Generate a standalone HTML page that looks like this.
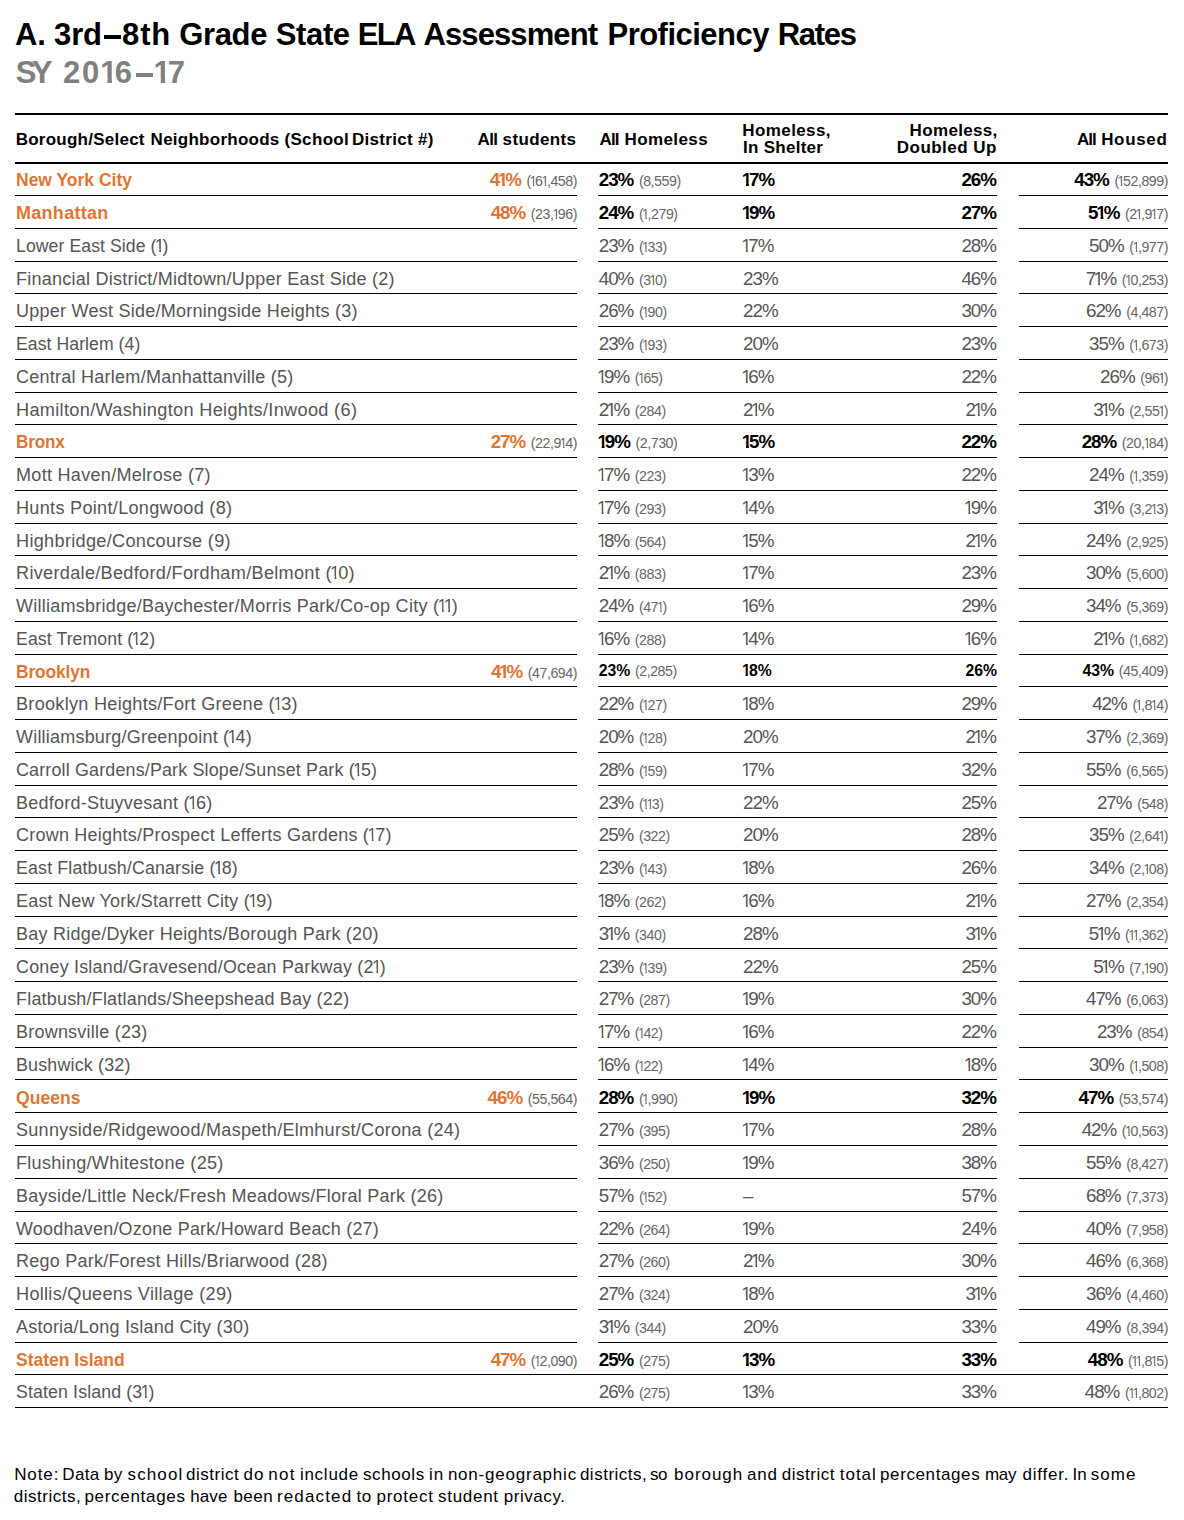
<!DOCTYPE html>
<html lang="en"><head><meta charset="utf-8"><title>A. 3rd–8th Grade State ELA Assessment Proficiency Rates</title>
<style>
html,body{margin:0;padding:0;background:#fff}
body{width:1184px;height:1520px;position:relative;overflow:hidden;font-family:"Liberation Sans",sans-serif}
.ln{position:absolute;left:0;top:0}
h1,h2{position:absolute;left:0;margin:0;width:1184px;height:36px;font-size:31px;line-height:36px;font-weight:700;white-space:nowrap;color:#000}
h1 span,h2 span{position:absolute;top:0}
h1 .d,h2 .d{background:#000;color:transparent;font-size:1px;line-height:1px;overflow:hidden}
h2 .d{background:#808080}
h1 i,h2 i{font-style:normal;display:inline-block;line-height:0;clip-path:polygon(0 -1em,.378em -1em,.378em 1em,.232em 1em,.232em .15em,0 .15em);margin:0 -.148em 0 -.03em}
h2{color:#808080}
.hd span{position:absolute;font-size:17px;line-height:20px;font-weight:700;color:#000;white-space:nowrap}
.r{position:absolute;left:0;width:1184px;height:20px;font-size:17px;line-height:20px;color:#555;white-space:nowrap}
.r div{position:absolute;top:0}
.c1{left:16px;transform-origin:0 0;font-size:17.5px}
.r div.c1{top:-1px}
.c2{right:607px;text-align:right}
.c3{left:598.7px}
.c4{left:743px}
.c5{right:187px;text-align:right}
.c6{right:16px;text-align:right}
.r b{font-weight:400;font-size:18.8px;letter-spacing:-1px;margin-right:1px;line-height:0}
.r s{text-decoration:none;font-size:14.2px;color:#666;margin-left:-.13px;letter-spacing:-.45px;line-height:0}
.r i{font-style:normal;display:inline-block;line-height:0;clip-path:polygon(0 -1em,.348em -1em,.348em 1em,.25em 1em,.25em .15em,0 .15em);margin:0 -.125em 0 -.095em}
.b .c1 i,.b b i{clip-path:polygon(0 -1em,.378em -1em,.378em 1em,.232em 1em,.232em .15em,0 .15em);margin:0 -.11em 0 -.07em}
.b .c1,.b .c2 b{color:#e17634;font-weight:700}
.b b{font-weight:700;color:#000}
.k .c3 b,.k .c4 b,.k .c5 b,.k .c6 b{font-size:15.8px;letter-spacing:0;margin-right:0}
.r.k .c3,.r.k .c4,.r.k .c5,.r.k .c6{top:-2px}
.n{margin:0}
.n span{position:absolute;font-size:17px;line-height:22px;color:#000;white-space:nowrap}

</style></head>
<body>
<svg class="ln" width="1184" height="1520" viewBox="0 0 1184 1520" shape-rendering="crispEdges"><path d="M15 113h1153v2H15zM15 162h1153v2H15zM15 195h562v1H15zM598 195h399v1H598zM1019 195h149v1H1019zM15 228h562v1H15zM598 228h399v1H598zM1019 228h149v1H1019zM15 261h562v1H15zM598 261h399v1H598zM1019 261h149v1H1019zM15 293h562v1H15zM598 293h399v1H598zM1019 293h149v1H1019zM15 326h562v1H15zM598 326h399v1H598zM1019 326h149v1H1019zM15 359h562v1H15zM598 359h399v1H598zM1019 359h149v1H1019zM15 392h562v1H15zM598 392h399v1H598zM1019 392h149v1H1019zM15 424h562v1H15zM598 424h399v1H598zM1019 424h149v1H1019zM15 457h562v1H15zM598 457h399v1H598zM1019 457h149v1H1019zM15 490h562v1H15zM598 490h399v1H598zM1019 490h149v1H1019zM15 523h562v1H15zM598 523h399v1H598zM1019 523h149v1H1019zM15 555h562v1H15zM598 555h399v1H598zM1019 555h149v1H1019zM15 588h562v1H15zM598 588h399v1H598zM1019 588h149v1H1019zM15 621h562v1H15zM598 621h399v1H598zM1019 621h149v1H1019zM15 654h562v1H15zM598 654h399v1H598zM1019 654h149v1H1019zM15 686h562v1H15zM598 686h399v1H598zM1019 686h149v1H1019zM15 719h562v1H15zM598 719h399v1H598zM1019 719h149v1H1019zM15 752h562v1H15zM598 752h399v1H598zM1019 752h149v1H1019zM15 785h562v1H15zM598 785h399v1H598zM1019 785h149v1H1019zM15 817h562v1H15zM598 817h399v1H598zM1019 817h149v1H1019zM15 850h562v1H15zM598 850h399v1H598zM1019 850h149v1H1019zM15 883h562v1H15zM598 883h399v1H598zM1019 883h149v1H1019zM15 916h562v1H15zM598 916h399v1H598zM1019 916h149v1H1019zM15 948h562v1H15zM598 948h399v1H598zM1019 948h149v1H1019zM15 981h562v1H15zM598 981h399v1H598zM1019 981h149v1H1019zM15 1014h562v1H15zM598 1014h399v1H598zM1019 1014h149v1H1019zM15 1047h562v1H15zM598 1047h399v1H598zM1019 1047h149v1H1019zM15 1079h562v1H15zM598 1079h399v1H598zM1019 1079h149v1H1019zM15 1112h562v1H15zM598 1112h399v1H598zM1019 1112h149v1H1019zM15 1145h562v1H15zM598 1145h399v1H598zM1019 1145h149v1H1019zM15 1178h562v1H15zM598 1178h399v1H598zM1019 1178h149v1H1019zM15 1211h562v1H15zM598 1211h399v1H598zM1019 1211h149v1H1019zM15 1243h562v1H15zM598 1243h399v1H598zM1019 1243h149v1H1019zM15 1276h562v1H15zM598 1276h399v1H598zM1019 1276h149v1H1019zM15 1309h562v1H15zM598 1309h399v1H598zM1019 1309h149v1H1019zM15 1342h562v1H15zM598 1342h399v1H598zM1019 1342h149v1H1019zM15 1374h1153v1H15zM15 1407h1153v1H15z" fill="#000"/></svg>
<h1 style="top:17px"><span style="left:15.00px;letter-spacing:-0.100px">A.</span> <span style="left:54.00px;letter-spacing:-0.100px">3rd</span><span class="d" style="left:104.2px;top:18.30px;width:16.8px;height:4.1px">–</span><span style="left:122.10px;letter-spacing:0.850px">8th</span> <span style="left:179.20px;letter-spacing:-0.350px">Grade</span> <span style="left:275.80px;letter-spacing:-0.375px">State</span> <span style="left:357.70px;letter-spacing:-1.600px">ELA</span> <span style="left:423.50px;letter-spacing:-0.900px">Assessment</span> <span style="left:607.50px;letter-spacing:-0.520px">Proficiency</span> <span style="left:777.70px;letter-spacing:-1.275px">Rates</span></h1>
<h2 style="top:55px"><span style="left:15.70px;letter-spacing:-4.700px">SY</span> <span style="left:62.90px;letter-spacing:1.867px">20<i>1</i>6</span><span class="d" style="left:136.3px;top:17.50px;width:16.6px;height:4.2px">–</span><span style="left:154.40px;letter-spacing:1.700px"><i>1</i>7</span></h2>
<div class="hd">
<span style="left:15.70px;top:130.01px;letter-spacing:0.246px">Borough/Select</span> <span style="left:150.60px;top:130.01px;letter-spacing:0.258px">Neighborhoods</span> <span style="left:284.40px;top:130.01px;letter-spacing:0.350px">(School</span> <span style="left:352.00px;top:130.01px;letter-spacing:0.290px">District #)</span> <span style="left:477.60px;top:130.01px;letter-spacing:-0.650px">All</span> <span style="left:502.60px;top:130.01px;letter-spacing:0.357px">students</span> <span style="left:599.50px;top:130.01px;letter-spacing:-0.850px">All</span> <span style="left:624.50px;top:130.01px;letter-spacing:0.400px">Homeless</span> <span style="left:742.30px;top:121.31px;letter-spacing:0.400px">Homeless,</span> <span style="left:743.00px;top:137.81px;letter-spacing:0.278px">In Shelter</span> <span style="left:909.60px;top:121.31px;letter-spacing:0.337px">Homeless,</span> <span style="left:896.80px;top:137.81px;letter-spacing:0.467px">Doubled Up</span> <span style="left:1077.00px;top:130.01px;letter-spacing:-1.050px">All</span> <span style="left:1101.20px;top:130.01px;letter-spacing:0.660px">Housed</span> 
</div>
<div class="r b" style="top:171px"><div class="c1" style="transform:scaleX(0.9995);letter-spacing:-0.005px">New York City</div><div class="c2"><b>4<i>1</i>%</b> <s>(<i>1</i>6<i>1</i>,458)</s></div><div class="c3"><b>23%</b> <s>(8,559)</s></div><div class="c4"><b><i>1</i>7%</b></div><div class="c5"><b>26%</b></div><div class="c6"><b>43%</b> <s>(<i>1</i>52,899)</s></div></div>
<div class="r b" style="top:204px"><div class="c1" style="transform:scaleX(1.0277);letter-spacing:0.287px">Manhattan</div><div class="c2"><b>48%</b> <s>(23,<i>1</i>96)</s></div><div class="c3"><b>24%</b> <s>(<i>1</i>,279)</s></div><div class="c4"><b><i>1</i>9%</b></div><div class="c5"><b>27%</b></div><div class="c6"><b>5<i>1</i>%</b> <s>(2<i>1</i>,9<i>1</i>7)</s></div></div>
<div class="r" style="top:237px"><div class="c1" style="transform:scaleX(1.0087);letter-spacing:0.071px">Lower East Side (<i>1</i>)</div><div class="c3"><b>23%</b> <s>(<i>1</i>33)</s></div><div class="c4"><b><i>1</i>7%</b></div><div class="c5"><b>28%</b></div><div class="c6"><b>50%</b> <s>(<i>1</i>,977)</s></div></div>
<div class="r" style="top:270px"><div class="c1" style="transform:scaleX(1.0302);letter-spacing:0.231px">Financial District/Midtown/Upper East Side (2)</div><div class="c3"><b>40%</b> <s>(3<i>1</i>0)</s></div><div class="c4"><b>23%</b></div><div class="c5"><b>46%</b></div><div class="c6"><b>7<i>1</i>%</b> <s>(<i>1</i>0,253)</s></div></div>
<div class="r" style="top:302px"><div class="c1" style="transform:scaleX(1.0293);letter-spacing:0.240px">Upper West Side/Morningside Heights (3)</div><div class="c3"><b>26%</b> <s>(<i>1</i>90)</s></div><div class="c4"><b>22%</b></div><div class="c5"><b>30%</b></div><div class="c6"><b>62%</b> <s>(4,487)</s></div></div>
<div class="r" style="top:335px"><div class="c1" style="transform:scaleX(1.0072);letter-spacing:0.062px">East Harlem (4)</div><div class="c3"><b>23%</b> <s>(<i>1</i>93)</s></div><div class="c4"><b>20%</b></div><div class="c5"><b>23%</b></div><div class="c6"><b>35%</b> <s>(<i>1</i>,673)</s></div></div>
<div class="r" style="top:368px"><div class="c1" style="transform:scaleX(1.0301);letter-spacing:0.237px">Central Harlem/Manhattanville (5)</div><div class="c3"><b><i>1</i>9%</b> <s>(<i>1</i>65)</s></div><div class="c4"><b><i>1</i>6%</b></div><div class="c5"><b>22%</b></div><div class="c6"><b>26%</b> <s>(96<i>1</i>)</s></div></div>
<div class="r" style="top:401px"><div class="c1" style="transform:scaleX(1.0372);letter-spacing:0.305px">Hamilton/Washington Heights/Inwood (6)</div><div class="c3"><b>2<i>1</i>%</b> <s>(284)</s></div><div class="c4"><b>2<i>1</i>%</b></div><div class="c5"><b>2<i>1</i>%</b></div><div class="c6"><b>3<i>1</i>%</b> <s>(2,55<i>1</i>)</s></div></div>
<div class="r b" style="top:433px"><div class="c1" style="transform:scaleX(0.9816);letter-spacing:-0.231px">Bronx</div><div class="c2"><b>27%</b> <s>(22,9<i>1</i>4)</s></div><div class="c3"><b><i>1</i>9%</b> <s>(2,730)</s></div><div class="c4"><b><i>1</i>5%</b></div><div class="c5"><b>22%</b></div><div class="c6"><b>28%</b> <s>(20,<i>1</i>84)</s></div></div>
<div class="r" style="top:466px"><div class="c1" style="transform:scaleX(1.0323);letter-spacing:0.268px">Mott Haven/Melrose (7)</div><div class="c3"><b><i>1</i>7%</b> <s>(223)</s></div><div class="c4"><b><i>1</i>3%</b></div><div class="c5"><b>22%</b></div><div class="c6"><b>24%</b> <s>(<i>1</i>,359)</s></div></div>
<div class="r" style="top:499px"><div class="c1" style="transform:scaleX(1.0341);letter-spacing:0.286px">Hunts Point/Longwood (8)</div><div class="c3"><b><i>1</i>7%</b> <s>(293)</s></div><div class="c4"><b><i>1</i>4%</b></div><div class="c5"><b><i>1</i>9%</b></div><div class="c6"><b>3<i>1</i>%</b> <s>(3,2<i>1</i>3)</s></div></div>
<div class="r" style="top:532px"><div class="c1" style="transform:scaleX(1.0357);letter-spacing:0.297px">Highbridge/Concourse (9)</div><div class="c3"><b><i>1</i>8%</b> <s>(564)</s></div><div class="c4"><b><i>1</i>5%</b></div><div class="c5"><b>2<i>1</i>%</b></div><div class="c6"><b>24%</b> <s>(2,925)</s></div></div>
<div class="r" style="top:564px"><div class="c1" style="transform:scaleX(1.0356);letter-spacing:0.291px">Riverdale/Bedford/Fordham/Belmont (<i>1</i>0)</div><div class="c3"><b>2<i>1</i>%</b> <s>(883)</s></div><div class="c4"><b><i>1</i>7%</b></div><div class="c5"><b>23%</b></div><div class="c6"><b>30%</b> <s>(5,600)</s></div></div>
<div class="r" style="top:597px"><div class="c1" style="transform:scaleX(1.0307);letter-spacing:0.237px">Williamsbridge/Baychester/Morris Park/Co-op City (<i>1</i><i>1</i>)</div><div class="c3"><b>24%</b> <s>(47<i>1</i>)</s></div><div class="c4"><b><i>1</i>6%</b></div><div class="c5"><b>29%</b></div><div class="c6"><b>34%</b> <s>(5,369)</s></div></div>
<div class="r" style="top:630px"><div class="c1" style="transform:scaleX(1.0104);letter-spacing:0.087px">East Tremont (<i>1</i>2)</div><div class="c3"><b><i>1</i>6%</b> <s>(288)</s></div><div class="c4"><b><i>1</i>4%</b></div><div class="c5"><b><i>1</i>6%</b></div><div class="c6"><b>2<i>1</i>%</b> <s>(<i>1</i>,682)</s></div></div>
<div class="r b k" style="top:663px"><div class="c1" style="transform:scaleX(0.9907);letter-spacing:-0.099px">Brooklyn</div><div class="c2"><b>4<i>1</i>%</b> <s>(47,694)</s></div><div class="c3"><b>23%</b> <s>(2,285)</s></div><div class="c4"><b><i>1</i>8%</b></div><div class="c5"><b>26%</b></div><div class="c6"><b>43%</b> <s>(45,409)</s></div></div>
<div class="r" style="top:695px"><div class="c1" style="transform:scaleX(1.0343);letter-spacing:0.270px">Brooklyn Heights/Fort Greene (<i>1</i>3)</div><div class="c3"><b>22%</b> <s>(<i>1</i>27)</s></div><div class="c4"><b><i>1</i>8%</b></div><div class="c5"><b>29%</b></div><div class="c6"><b>42%</b> <s>(<i>1</i>,8<i>1</i>4)</s></div></div>
<div class="r" style="top:728px"><div class="c1" style="transform:scaleX(1.0269);letter-spacing:0.216px">Williamsburg/Greenpoint (<i>1</i>4)</div><div class="c3"><b>20%</b> <s>(<i>1</i>28)</s></div><div class="c4"><b>20%</b></div><div class="c5"><b>2<i>1</i>%</b></div><div class="c6"><b>37%</b> <s>(2,369)</s></div></div>
<div class="r" style="top:761px"><div class="c1" style="transform:scaleX(1.0213);letter-spacing:0.171px">Carroll Gardens/Park Slope/Sunset Park (<i>1</i>5)</div><div class="c3"><b>28%</b> <s>(<i>1</i>59)</s></div><div class="c4"><b><i>1</i>7%</b></div><div class="c5"><b>32%</b></div><div class="c6"><b>55%</b> <s>(6,565)</s></div></div>
<div class="r" style="top:794px"><div class="c1" style="transform:scaleX(1.0282);letter-spacing:0.230px">Bedford-Stuyvesant (<i>1</i>6)</div><div class="c3"><b>23%</b> <s>(<i>1</i><i>1</i>3)</s></div><div class="c4"><b>22%</b></div><div class="c5"><b>25%</b></div><div class="c6"><b>27%</b> <s>(548)</s></div></div>
<div class="r" style="top:826px"><div class="c1" style="transform:scaleX(1.0280);letter-spacing:0.224px">Crown Heights/Prospect Lefferts Gardens (<i>1</i>7)</div><div class="c3"><b>25%</b> <s>(322)</s></div><div class="c4"><b>20%</b></div><div class="c5"><b>28%</b></div><div class="c6"><b>35%</b> <s>(2,64<i>1</i>)</s></div></div>
<div class="r" style="top:859px"><div class="c1" style="transform:scaleX(1.0178);letter-spacing:0.143px">East Flatbush/Canarsie (<i>1</i>8)</div><div class="c3"><b>23%</b> <s>(<i>1</i>43)</s></div><div class="c4"><b><i>1</i>8%</b></div><div class="c5"><b>26%</b></div><div class="c6"><b>34%</b> <s>(2,<i>1</i>08)</s></div></div>
<div class="r" style="top:892px"><div class="c1" style="transform:scaleX(1.0272);letter-spacing:0.206px">East New York/Starrett City (<i>1</i>9)</div><div class="c3"><b><i>1</i>8%</b> <s>(262)</s></div><div class="c4"><b><i>1</i>6%</b></div><div class="c5"><b>2<i>1</i>%</b></div><div class="c6"><b>27%</b> <s>(2,354)</s></div></div>
<div class="r" style="top:925px"><div class="c1" style="transform:scaleX(1.0281);letter-spacing:0.233px">Bay Ridge/Dyker Heights/Borough Park (20)</div><div class="c3"><b>3<i>1</i>%</b> <s>(340)</s></div><div class="c4"><b>28%</b></div><div class="c5"><b>3<i>1</i>%</b></div><div class="c6"><b>5<i>1</i>%</b> <s>(<i>1</i><i>1</i>,362)</s></div></div>
<div class="r" style="top:958px"><div class="c1" style="transform:scaleX(1.0237);letter-spacing:0.203px">Coney Island/Gravesend/Ocean Parkway (2<i>1</i>)</div><div class="c3"><b>23%</b> <s>(<i>1</i>39)</s></div><div class="c4"><b>22%</b></div><div class="c5"><b>25%</b></div><div class="c6"><b>5<i>1</i>%</b> <s>(7,<i>1</i>90)</s></div></div>
<div class="r" style="top:990px"><div class="c1" style="transform:scaleX(1.0253);letter-spacing:0.210px">Flatbush/Flatlands/Sheepshead Bay (22)</div><div class="c3"><b>27%</b> <s>(287)</s></div><div class="c4"><b><i>1</i>9%</b></div><div class="c5"><b>30%</b></div><div class="c6"><b>47%</b> <s>(6,063)</s></div></div>
<div class="r" style="top:1023px"><div class="c1" style="transform:scaleX(1.0277);letter-spacing:0.220px">Brownsville (23)</div><div class="c3"><b><i>1</i>7%</b> <s>(<i>1</i>42)</s></div><div class="c4"><b><i>1</i>6%</b></div><div class="c5"><b>22%</b></div><div class="c6"><b>23%</b> <s>(854)</s></div></div>
<div class="r" style="top:1056px"><div class="c1" style="transform:scaleX(1.0207);letter-spacing:0.183px">Bushwick (32)</div><div class="c3"><b><i>1</i>6%</b> <s>(<i>1</i>22)</s></div><div class="c4"><b><i>1</i>4%</b></div><div class="c5"><b><i>1</i>8%</b></div><div class="c6"><b>30%</b> <s>(<i>1</i>,508)</s></div></div>
<div class="r b" style="top:1089px"><div class="c1" style="transform:scaleX(1.0033);letter-spacing:0.041px">Queens</div><div class="c2"><b>46%</b> <s>(55,564)</s></div><div class="c3"><b>28%</b> <s>(<i>1</i>,990)</s></div><div class="c4"><b><i>1</i>9%</b></div><div class="c5"><b>32%</b></div><div class="c6"><b>47%</b> <s>(53,574)</s></div></div>
<div class="r" style="top:1121px"><div class="c1" style="transform:scaleX(1.0309);letter-spacing:0.266px">Sunnyside/Ridgewood/Maspeth/Elmhurst/Corona (24)</div><div class="c3"><b>27%</b> <s>(395)</s></div><div class="c4"><b><i>1</i>7%</b></div><div class="c5"><b>28%</b></div><div class="c6"><b>42%</b> <s>(<i>1</i>0,563)</s></div></div>
<div class="r" style="top:1154px"><div class="c1" style="transform:scaleX(1.0332);letter-spacing:0.267px">Flushing/Whitestone (25)</div><div class="c3"><b>36%</b> <s>(250)</s></div><div class="c4"><b><i>1</i>9%</b></div><div class="c5"><b>38%</b></div><div class="c6"><b>55%</b> <s>(8,427)</s></div></div>
<div class="r" style="top:1187px"><div class="c1" style="transform:scaleX(1.0294);letter-spacing:0.234px">Bayside/Little Neck/Fresh Meadows/Floral Park (26)</div><div class="c3"><b>57%</b> <s>(<i>1</i>52)</s></div><div class="c4"><b>–</b></div><div class="c5"><b>57%</b></div><div class="c6"><b>68%</b> <s>(7,373)</s></div></div>
<div class="r" style="top:1220px"><div class="c1" style="transform:scaleX(1.0243);letter-spacing:0.221px">Woodhaven/Ozone Park/Howard Beach (27)</div><div class="c3"><b>22%</b> <s>(264)</s></div><div class="c4"><b><i>1</i>9%</b></div><div class="c5"><b>24%</b></div><div class="c6"><b>40%</b> <s>(7,958)</s></div></div>
<div class="r" style="top:1252px"><div class="c1" style="transform:scaleX(1.0286);letter-spacing:0.227px">Rego Park/Forest Hills/Briarwood (28)</div><div class="c3"><b>27%</b> <s>(260)</s></div><div class="c4"><b>2<i>1</i>%</b></div><div class="c5"><b>30%</b></div><div class="c6"><b>46%</b> <s>(6,368)</s></div></div>
<div class="r" style="top:1285px"><div class="c1" style="transform:scaleX(1.0358);letter-spacing:0.275px">Hollis/Queens Village (29)</div><div class="c3"><b>27%</b> <s>(324)</s></div><div class="c4"><b><i>1</i>8%</b></div><div class="c5"><b>3<i>1</i>%</b></div><div class="c6"><b>36%</b> <s>(4,460)</s></div></div>
<div class="r" style="top:1318px"><div class="c1" style="transform:scaleX(1.0282);letter-spacing:0.214px">Astoria/Long Island City (30)</div><div class="c3"><b>3<i>1</i>%</b> <s>(344)</s></div><div class="c4"><b>20%</b></div><div class="c5"><b>33%</b></div><div class="c6"><b>49%</b> <s>(8,394)</s></div></div>
<div class="r b" style="top:1351px"><div class="c1" style="transform:scaleX(0.9987);letter-spacing:-0.011px">Staten Island</div><div class="c2"><b>47%</b> <s>(<i>1</i>2,090)</s></div><div class="c3"><b>25%</b> <s>(275)</s></div><div class="c4"><b><i>1</i>3%</b></div><div class="c5"><b>33%</b></div><div class="c6"><b>48%</b> <s>(<i>1</i><i>1</i>,8<i>1</i>5)</s></div></div>
<div class="r" style="top:1383px"><div class="c1" style="transform:scaleX(1.0149);letter-spacing:0.115px">Staten Island (3<i>1</i>)</div><div class="c3"><b>26%</b> <s>(275)</s></div><div class="c4"><b><i>1</i>3%</b></div><div class="c5"><b>33%</b></div><div class="c6"><b>48%</b> <s>(<i>1</i><i>1</i>,802)</s></div></div>
<p class="n"><span style="left:14.20px;top:1463.91px;letter-spacing:0.900px">Note:</span> <span style="left:62.30px;top:1463.91px;letter-spacing:0.333px">Data</span> <span style="left:104.10px;top:1463.91px;letter-spacing:0.300px">by</span> <span style="left:127.50px;top:1463.91px;letter-spacing:1.140px">school</span> <span style="left:186.00px;top:1463.91px;letter-spacing:0.529px">district</span> <span style="left:243.50px;top:1463.91px;letter-spacing:1.000px">do</span> <span style="left:268.30px;top:1463.91px;letter-spacing:1.250px">not</span> <span style="left:299.90px;top:1463.91px;letter-spacing:0.750px">include</span> <span style="left:363.00px;top:1463.91px;letter-spacing:0.583px">schools</span> <span style="left:428.90px;top:1463.91px;letter-spacing:1.100px">in</span> <span style="left:447.90px;top:1463.91px;letter-spacing:0.777px">non-geographic</span> <span style="left:579.90px;top:1463.91px;letter-spacing:0.511px">districts,</span> <span style="left:650.10px;top:1463.91px;letter-spacing:-0.600px">so</span> <span style="left:674.10px;top:1463.91px;letter-spacing:0.950px">borough</span> <span style="left:746.90px;top:1463.91px;letter-spacing:0.800px">and</span> <span style="left:781.80px;top:1463.91px;letter-spacing:0.500px">district</span> <span style="left:839.80px;top:1463.91px;letter-spacing:0.975px">total</span> <span style="left:880.00px;top:1463.91px;letter-spacing:0.610px">percentages</span> <span style="left:984.90px;top:1463.91px;letter-spacing:-0.300px">may</span> <span style="left:1022.40px;top:1463.91px;letter-spacing:0.800px">differ.</span> <span style="left:1072.60px;top:1463.91px;letter-spacing:-0.100px">In</span> <span style="left:1090.80px;top:1463.91px;letter-spacing:1.033px">some</span> <span style="left:13.80px;top:1485.91px;letter-spacing:0.500px">districts,</span> <span style="left:84.40px;top:1485.91px;letter-spacing:0.700px">percentages</span> <span style="left:190.30px;top:1485.91px;letter-spacing:0.067px">have</span> <span style="left:233.40px;top:1485.91px;letter-spacing:0.500px">been</span> <span style="left:276.90px;top:1485.91px;letter-spacing:1.157px">redacted</span> <span style="left:356.40px;top:1485.91px;letter-spacing:0.700px">to</span> <span style="left:376.40px;top:1485.91px;letter-spacing:0.783px">protect</span> <span style="left:438.00px;top:1485.91px;letter-spacing:0.717px">student</span> <span style="left:503.80px;top:1485.91px;letter-spacing:0.543px">privacy.</span> </p>
</body></html>
